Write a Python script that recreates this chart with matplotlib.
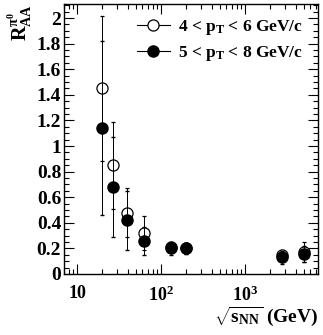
import matplotlib
matplotlib.use("Agg")
import matplotlib.pyplot as plt
from matplotlib.ticker import LogLocator, MultipleLocator, NullFormatter, FuncFormatter
from matplotlib.lines import Line2D
import numpy as np

plt.rcParams['font.family'] = ['Liberation Serif', 'DejaVu Serif']
plt.rcParams['font.weight'] = 'bold'
plt.rcParams['mathtext.fontset'] = 'custom'
plt.rcParams['mathtext.rm'] = 'Liberation Serif:bold'
plt.rcParams['mathtext.it'] = 'Liberation Serif:bold'
plt.rcParams['mathtext.bf'] = 'Liberation Serif:bold'

# Data
sqrt_s = [19.6, 27, 39, 62.4, 130, 200, 2760, 5020]
raa_4_6 = [1.45, 0.85, 0.48, 0.32, 0.21, 0.20, 0.15, 0.17]
err_4_6 = [0.57, 0.34, 0.19, 0.13, 0.04, 0.04, 0.04, 0.08]
raa_5_8 = [1.14, 0.68, 0.42, 0.26, 0.20, 0.20, 0.13, 0.155]
err_5_8 = [0.68, 0.39, 0.23, 0.11, 0.05, 0.04, 0.05, 0.065]
labels = [r'4 < p$_{\mathrm{T}}$ < 6 GeV/c', r'5 < p$_{\mathrm{T}}$ < 8 GeV/c']

fig = plt.figure(figsize=(3.23, 3.35), dpi=100)
ax = fig.add_axes([64/323, 1-274/335, (318-64)/323, (274-4)/335])

ax.errorbar(sqrt_s, raa_4_6, yerr=err_4_6, fmt='o', mfc='white', mec='black', mew=0.9,
            ms=8, color='black', ecolor='black', elinewidth=0.7, capsize=1.5, zorder=3)
ax.errorbar(sqrt_s, raa_5_8, yerr=err_5_8, fmt='o', mfc='black', mec='black',
            ms=8, color='black', ecolor='black', elinewidth=0.7, capsize=1.5, zorder=4)

ax.set_xscale('log')
ax.set_xlim(7.0, 7400)
ax.set_ylim(0, 2.11)

def xfmt(v, p):
    e = int(round(np.log10(v)))
    return '10' if e == 1 else r'10$^{%d}$' % e

ax.yaxis.set_major_locator(MultipleLocator(0.2))
ax.yaxis.set_minor_locator(MultipleLocator(0.05))
ax.yaxis.set_major_formatter(FuncFormatter(lambda v, p: ('%g' % round(v, 2))))
ax.xaxis.set_major_locator(LogLocator(base=10, numticks=10))
ax.xaxis.set_major_formatter(FuncFormatter(xfmt))
ax.xaxis.set_minor_locator(LogLocator(base=10, subs=np.arange(2, 10), numticks=20))
ax.xaxis.set_minor_formatter(NullFormatter())

ax.tick_params(which='both', direction='in', top=True, right=True, width=0.8)
ax.tick_params(axis='y', labelsize=14, pad=2)
ax.tick_params(axis='x', labelsize=13, pad=8)
ax.tick_params(which='major', length=7)
ax.tick_params(which='minor', length=3.5)
for s in ax.spines.values():
    s.set_linewidth(1.0)
for lab in ax.get_xticklabels() + ax.get_yticklabels():
    lab.set_fontweight('bold')

ax.text(-0.12, 1.0, r'R$_{\mathrm{AA}}^{\pi^{0}}$', transform=ax.transAxes, rotation=90,
        ha='right', va='top', fontsize=14.5)
fig.text(318/323, 7/335, r'$\sqrt{\mathrm{s_{NN}}}$ (GeV)', ha='right', va='bottom', fontsize=14)

h1 = Line2D([], [], marker='o', mfc='white', mec='black', mew=0.9, ms=8, color='black', lw=0.8)
h2 = Line2D([], [], marker='o', mfc='black', mec='black', ms=8, color='black', lw=0.8)
leg = ax.legend([h1, h2], labels, loc='upper left', bbox_to_anchor=(0.245, 0.985), frameon=False,
                fontsize=12.5, handlelength=1.9, handletextpad=0.5, labelspacing=0.38, borderaxespad=0.2)

fig.savefig('out.png', dpi=100)
